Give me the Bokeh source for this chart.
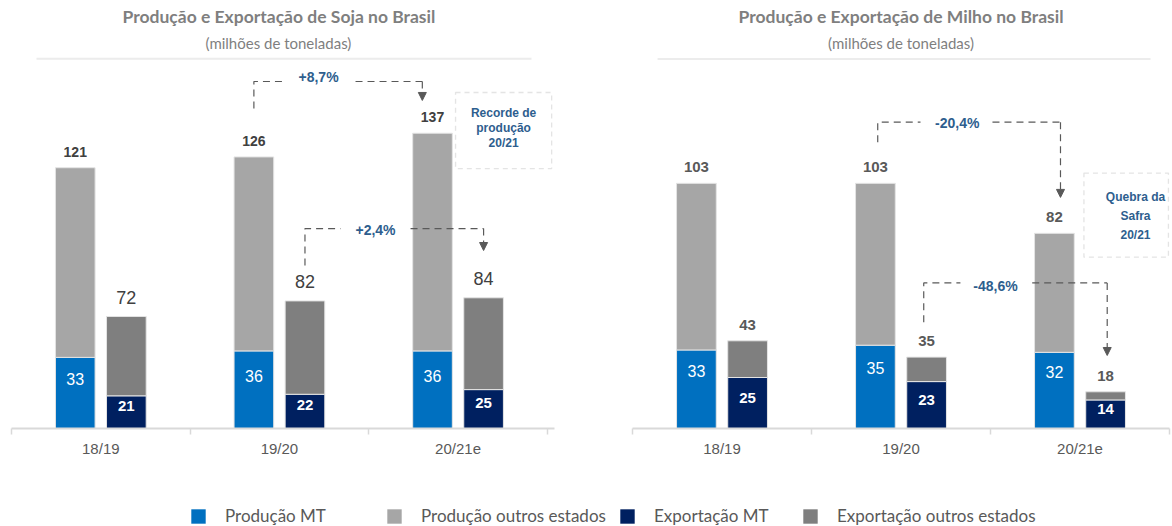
from bokeh.plotting import figure
from bokeh.models import (ColumnDataSource, Range1d, FixedTicker, BoxAnnotation, Arrow,
                          NormalHead, Title, Legend, LegendItem)
from bokeh.layouts import row, column
from bokeh.embed import file_html
from bokeh.resources import INLINE
from bokeh.core.properties import value

# ---------------- data ----------------
categories = ["18/19", "19/20", "20/21e"]

soja_prod_total = [121, 126, 137]
soja_prod_mt = [33, 36, 36]
soja_exp_total = [72, 82, 84]
soja_exp_mt = [21, 22, 25]

milho_prod_total = [103, 103, 82]
milho_prod_mt = [33, 35, 32]
milho_exp_total = [43, 35, 18]
milho_exp_mt = [25, 23, 14]

soja_changes = ["+8,7%", "+2,4%"]
milho_changes = ["-20,4%", "-48,6%"]
soja_note = "Recorde de\nprodução\n20/21"
milho_note = "Quebra da\nSafra\n20/21"

legend_labels = ["Produção MT", "Produção outros estados", "Exportação MT", "Exportação outros estados"]

# ---------------- styles ----------------
C_PROD_MT = "#0070C0"
C_PROD_OUT = "#A6A6A6"
C_EXP_MT = "#002060"
C_EXP_OUT = "#7F7F7F"
EDGE = "#E4E4E4"
DASH_COLOR = "#595959"
NOTE_COLOR = "#2E5E8E"
ARIAL = "Liberation Sans"
CAL = "Lato"
BAR_W = 0.222
DX = 0.143


def make_chart(name, prod_total, prod_mt, exp_total, exp_mt, changes, note, cfg):
    centers = [i + 0.5 for i in range(len(categories))]
    src = ColumnDataSource(data=dict(
        xp=[c - DX for c in centers],
        xe=[c + DX for c in centers],
        pt=prod_total, pm=prod_mt, et=exp_total, em=exp_mt,
        pmh=[v / 2 for v in prod_mt], emh=[v / 2 for v in exp_mt],
        pt_txt=[str(v) for v in prod_total], pm_txt=[str(v) for v in prod_mt],
        et_txt=[str(v) for v in exp_total], em_txt=[str(v) for v in exp_mt],
    ))
    p = figure(width=cfg["width"], height=494,
               x_range=Range1d(0, cfg["x_end"]), y_range=Range1d(0, cfg["prod_end"]),
               output_backend="svg", toolbar_location=None, y_axis_location=None,
               min_border_left=cfg["bl"], min_border_right=cfg["br"],
               min_border_top=cfg["bt"], min_border_bottom=66,
               title=name)
    p.extra_y_ranges = {"exp": Range1d(0, cfg["exp_end"])}
    p.outline_line_color = None
    p.grid.visible = False

    # titles (main title outermost, subtitle next to the frame)
    p.title.align = cfg["t_align"]
    p.title.offset = cfg["t_off"]
    p.title.text_font = CAL
    p.title.text_font_size = "17.5px"
    p.title.text_font_style = "bold"
    p.title.text_color = "#7F7F7F"
    p.title.standoff = cfg["title_standoff"]
    p.add_layout(Title(text="(milhões de toneladas)", align=cfg["t_align"], offset=cfg["s_off"],
                       text_font=CAL, text_font_size="15px", text_font_style="normal",
                       text_color="#7F7F7F", standoff=cfg["sub_standoff"]), "above")

    # x axis: labels at centres, separators at boundaries
    ax = p.xaxis[0]
    ax.ticker = FixedTicker(ticks=centers, minor_ticks=list(range(len(categories) + 1)))
    ax.major_label_overrides = {c: lab for c, lab in zip(centers, categories)}
    ax.major_tick_line_color = None
    ax.major_tick_out = 0
    ax.major_tick_in = 0
    ax.minor_tick_line_color = "#D9D9D9"
    ax.minor_tick_line_width = 1.5
    ax.minor_tick_out = 6
    ax.minor_tick_in = 0
    ax.axis_line_color = "#D9D9D9"
    ax.axis_line_width = 2
    ax.major_label_text_font = ARIAL
    ax.major_label_text_font_size = "15px"
    ax.major_label_text_color = "#595959"
    ax.major_label_standoff = 5

    # separator under subtitle
    s = cfg["sep"]
    p.add_layout(BoxAnnotation(left=s[0], right=s[1], top=s[2], bottom=s[2], fill_alpha=0,
                               line_color="#BFBFBF", line_width=2))

    # bars
    p.vbar(x="xp", bottom=0, top="pm", width=BAR_W, source=src,
           fill_color=C_PROD_MT, line_color=EDGE)
    p.vbar(x="xp", bottom="pm", top="pt", width=BAR_W, source=src,
           fill_color=C_PROD_OUT, line_color=EDGE)
    p.vbar(x="xe", bottom=0, top="em", width=BAR_W, source=src, y_range_name="exp",
           fill_color=C_EXP_MT, line_color=EDGE)
    p.vbar(x="xe", bottom="em", top="et", width=BAR_W, source=src, y_range_name="exp",
           fill_color=C_EXP_OUT, line_color=EDGE)

    # value labels
    L = cfg["labels"]
    p.text(x="xp", y="pt", text="pt_txt", source=src, text_align="center", text_baseline="middle",
           y_offset=-L["pt"][0], text_font=value(ARIAL), text_font_style=L["pt"][1],
           text_font_size=L["pt"][2], text_color=L["pt"][3])
    p.text(x="xe", y="et", text="et_txt", source=src, text_align="center", text_baseline="middle",
           y_offset=-L["et"][0], text_font=value(ARIAL), text_font_style=L["et"][1],
           text_font_size=L["et"][2], text_color=L["et"][3], y_range_name="exp")
    p.text(x="xp", y="pmh", text="pm_txt", source=src, text_align="center", text_baseline="middle",
           y_offset=-L["pm"][0], text_font=value(ARIAL), text_font_style=L["pm"][1],
           text_font_size=L["pm"][2], text_color="white")
    p.text(x="xe", y="emh", text="em_txt", source=src, text_align="center", text_baseline="middle",
           y_offset=-L["em"][0], text_font=value(ARIAL), text_font_style=L["em"][1],
           text_font_size=L["em"][2], text_color="white", y_range_name="exp")

    # change brackets
    for b, txt in zip(cfg["brackets"], changes):
        rng = b["rng"]
        p.multi_line(xs=[[b["x0"], b["x0"], b["gl"]], [b["gr"], b["x1"]]],
                     ys=[[b["y0"], b["yt"], b["yt"]], [b["yt"], b["yt"]]],
                     line_color=DASH_COLOR, line_width=1.2, line_dash="7 5", y_range_name=rng)
        p.add_layout(Arrow(x_start=b["x1"], y_start=b["yt"], x_end=b["x1"], y_end=b["tip"],
                           end=NormalHead(size=8, fill_color=DASH_COLOR, line_color=DASH_COLOR),
                           line_color=DASH_COLOR, line_width=1.2, line_dash="7 5",
                           y_range_name=rng))
        p.text(x=[b["lx"]], y=[b["ly"]], text=[txt], text_align="center", text_baseline="middle",
               text_font=value(ARIAL), text_font_style="bold", text_font_size="14px",
               text_color=NOTE_COLOR, y_range_name=rng)

    # note box
    nb = cfg["note"]
    p.add_layout(BoxAnnotation(left=nb["l"], right=nb["r"], top=nb["t"], bottom=nb["b"],
                               fill_alpha=0, line_color="#A6A6A6", line_width=1.3, line_dash="5 4"))
    p.text(x=[nb["tx"]], y=[nb["ty"]], text=[note], text_align="center", text_baseline="middle",
           text_font=value(ARIAL), text_font_style="bold", text_font_size="12px",
           text_color=NOTE_COLOR, text_line_height=nb["lh"])
    return p


soja_cfg = dict(
    width=589, bl=11, br=35, bt=56, x_end=3.04, prod_end=172.6, exp_end=239.1,
    sub_standoff=10, title_standoff=0, t_align="left", t_off=111, s_off=194,
    sep=(0.14, 2.911, 171.6),
    labels=dict(pt=(16, "bold", "14px", "#404040"), et=(19, "normal", "18px", "#404040"),
                pm=(14, "normal", "16px"), em=(6.5, "bold", "15px")),
    brackets=[
        dict(rng="default", x0=1.357, y0=148.5, yt=161.0, gl=1.523, gr=1.926, x1=2.30,
             tip=152.2, lx=1.719, ly=163.3),
        dict(rng="exp", x0=1.643, y0=104.8, yt=128.5, gl=1.842, gr=2.234, x1=2.643,
             tip=114.4, lx=2.038, ly=127.9),
    ],
    note=dict(l=2.486, r=3.024, t=155.9, b=120.6, tx=2.755, ty=139.6, lh=1.08),
)

milho_cfg = dict(
    width=583, bl=43, br=3, bt=56, x_end=3.0, prod_end=156.3, exp_end=182.4,
    sub_standoff=10, title_standoff=0, t_align="center", t_off=0, s_off=0,
    sep=(0.14, 2.894, 155.3),
    labels=dict(pt=(16, "bold", "15px", "#595959"), et=(16, "bold", "15px", "#595959"),
                pm=(18.7, "normal", "16px"), em=(5, "bold", "15px")),
    brackets=[
        dict(rng="default", x0=1.37, y0=120.3, yt=128.7, gl=1.609, gr=2.011, x1=2.391,
             tip=97.1, lx=1.814, ly=128.3),
        dict(rng="exp", x0=1.627, y0=52.1, yt=71.4, gl=1.832, gr=2.233, x1=2.652,
             tip=35.8, lx=2.028, ly=70.1),
    ],
    note=dict(l=2.522, r=2.994, t=107.3, b=72.0, tx=2.810, ty=89.4, lh=1.36),
)

p1 = make_chart("Produção e Exportação de Soja no Brasil", soja_prod_total, soja_prod_mt,
                soja_exp_total, soja_exp_mt, soja_changes, soja_note, soja_cfg)
p2 = make_chart("Produção e Exportação de Milho no Brasil", milho_prod_total, milho_prod_mt,
                milho_exp_total, milho_exp_mt, milho_changes, milho_note, milho_cfg)

# ---------------- legend strip ----------------
p3 = figure(width=1172, height=32, x_range=Range1d(0, 1), y_range=Range1d(0, 1),
            output_backend="svg", toolbar_location=None, x_axis_location=None,
            y_axis_location=None, min_border=0)
p3.outline_line_color = None
p3.grid.visible = False
legend_colors = [C_PROD_MT, C_PROD_OUT, C_EXP_MT, C_EXP_OUT]
legend_x = [189, 385, 618, 801]
for lab, col, lx in zip(legend_labels, legend_colors, legend_x):
    # zero-height swatch carrier: draws nothing in the strip, only feeds the legend
    r = p3.vbar(x=[0.5], bottom=[0], top=[0], width=0.01, fill_color=col, line_color=None)
    lg = Legend(items=[LegendItem(label=lab, renderers=[r])], location=(lx, 0),
                orientation="horizontal", glyph_width=18, glyph_height=18, label_standoff=18,
                padding=0, margin=0, border_line_color=None, background_fill_alpha=0,
                label_text_font=CAL, label_text_font_size="17px", label_text_color="#595959")
    p3.add_layout(lg)

layout = column(row(p1, p2), p3)
open("out.html", "w").write(file_html(layout, INLINE))
